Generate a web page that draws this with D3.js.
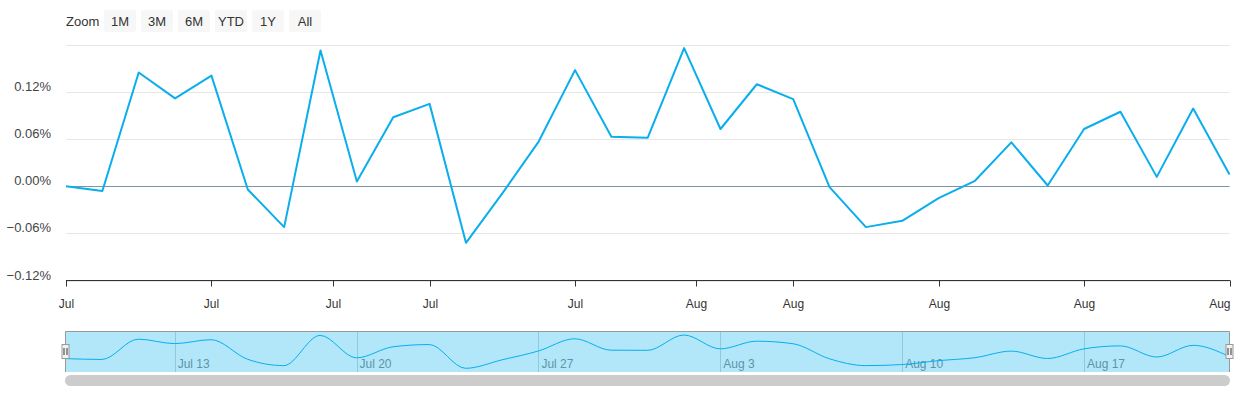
<!DOCTYPE html>
<html>
<head>
<meta charset="utf-8">
<script src="https://cdn.jsdelivr.net/npm/d3@7"></script>
<style>
  body { margin: 0; background: #fff; }
  svg { display: block; font-family: "Liberation Sans", Arial, sans-serif; }
</style>
</head>
<body>
<div id="chart"></div>
<script>
// trading days, Jul 8 - Aug 21
var dates = ["Jul 8","Jul 9","Jul 10","Jul 13","Jul 14","Jul 15","Jul 16","Jul 17",
  "Jul 20","Jul 21","Jul 22","Jul 23","Jul 24","Jul 27","Jul 28","Jul 29","Jul 30","Jul 31",
  "Aug 3","Aug 4","Aug 5","Aug 6","Aug 7","Aug 10","Aug 11","Aug 12","Aug 13","Aug 14",
  "Aug 17","Aug 18","Aug 19","Aug 20","Aug 21"];
// change vs first point, in %
var values = [0.000, -0.006, 0.145, 0.112, 0.141, -0.004, -0.052, 0.173, 0.006, 0.088,
  0.105, -0.072, -0.009, 0.057, 0.148, 0.063, 0.062, 0.176, 0.073, 0.130,
  0.111, -0.001, -0.052, -0.044, -0.015, 0.007, 0.056, 0.001, 0.073, 0.095,
  0.012, 0.099, 0.015];

var yTicks = [-0.12, -0.06, 0.00, 0.06, 0.12, 0.18];
// x ticks as (ordinal) point index
var xTickPos = [0, 4, 7.33, 10, 14, 17.33, 20, 24, 28, 32];
var xTickLabels = ["Jul","Jul","Jul","Jul","Jul","Aug","Aug","Aug","Aug","Aug"];
var navTickLabels = ["Jul 13","Jul 20","Jul 27","Aug 3","Aug 10","Aug 17"];
var buttons = ["1M","3M","6M","YTD","1Y","All"];

var W = 1240, H = 400;
var plot = {left: 66, right: 1229.5, top: 45, bottom: 280.5};
var nav = {top: 331, bottom: 372};
var lineColor = "#0aaeec";

var svg = d3.select("#chart").append("svg")
    .attr("width", W).attr("height", H);

// range selector
svg.append("text")
    .attr("x", 66).attr("y", 26)
    .attr("font-size", 13).attr("fill", "#333")
    .text("Zoom");

var btn = svg.append("g").selectAll("g")
    .data(buttons)
    .join("g")
    .attr("transform", (d, i) => "translate(" + (104 + i * 37) + ",10)");
btn.append("rect")
    .attr("width", 32).attr("height", 22).attr("rx", 2)
    .attr("fill", "#f7f7f7");
btn.append("text")
    .attr("x", 16).attr("y", 16)
    .attr("text-anchor", "middle")
    .attr("font-size", 13).attr("fill", "#333")
    .text(d => d);

// scales
var x = d3.scaleLinear()
    .domain([0, values.length - 1])
    .range([plot.left, plot.right]);

var y = d3.scaleLinear()
    .domain([-0.12, 0.18])
    .range([plot.bottom, plot.top]);

// grid
svg.append("g")
  .selectAll("line")
  .data(yTicks)
  .join("line")
    .attr("x1", plot.left).attr("x2", plot.right)
    .attr("y1", d => Math.round(y(d)) + 0.5)
    .attr("y2", d => Math.round(y(d)) + 0.5)
    .attr("stroke", "#e6e6e6");

// y labels (top one hidden)
svg.append("g")
  .selectAll("text")
  .data(yTicks.slice(0, -1))
  .join("text")
    .attr("x", 51)
    .attr("y", d => y(d) - 1)
    .attr("text-anchor", "end")
    .attr("font-size", 13)
    .attr("fill", "#444")
    .text(d => d3.format(".2f")(d) + "%");

// zero line
svg.append("line")
    .attr("x1", plot.left).attr("x2", plot.right)
    .attr("y1", Math.round(y(0)) + 0.5).attr("y2", Math.round(y(0)) + 0.5)
    .attr("stroke", "#7f93a6");

// x axis
var xAxisG = svg.append("g")
    .attr("transform", "translate(0," + plot.bottom + ")");
xAxisG.append("line")
    .attr("x1", plot.left).attr("x2", plot.right + 0.5)
    .attr("stroke", "#333");
var tick = xAxisG.selectAll("g.tick")
    .data(xTickPos)
    .join("g")
    .attr("class", "tick")
    .attr("transform", d => "translate(" + (Math.round(x(d)) + 0.5) + ",0)");
tick.append("line")
    .attr("y2", 6)
    .attr("stroke", "#333");
tick.append("text")
    .attr("y", 27)
    .attr("text-anchor", (d, i) => i === xTickPos.length - 1 ? "end" : "middle")
    .attr("font-size", 12)
    .attr("fill", "#333")
    .text((d, i) => xTickLabels[i]);

// main series
var line = d3.line()
    .x((d, i) => x(i))
    .y(d => y(d));

svg.append("path")
    .datum(values)
    .attr("fill", "none")
    .attr("stroke", lineColor)
    .attr("stroke-width", 2)
    .attr("stroke-linejoin", "round")
    .attr("d", line);

// navigator
var xn = d3.scaleLinear()
    .domain([0, values.length - 1])
    .range([65.5, 1229.5]);
var yn = d3.scaleLinear()
    .domain(d3.extent(values))
    .range([368.3, 335]);

var navTickIdx = navTickLabels.map(l => dates.indexOf(l));

var navG = svg.append("g");
navG.selectAll("line.grid")
  .data(navTickIdx)
  .join("line")
    .attr("class", "grid")
    .attr("x1", d => Math.round(xn(d)) + 0.5).attr("x2", d => Math.round(xn(d)) + 0.5)
    .attr("y1", nav.top).attr("y2", nav.bottom)
    .attr("stroke", "#c9d6dc");
navG.selectAll("text")
  .data(navTickIdx)
  .join("text")
    .attr("x", d => xn(d) + 3)
    .attr("y", 368)
    .attr("font-size", 12)
    .attr("fill", "#888")
    .text((d, i) => navTickLabels[i]);

navG.append("path")
    .datum(values)
    .attr("fill", "none")
    .attr("stroke", lineColor)
    .attr("stroke-width", 1)
    .attr("d", d3.line()
        .x((d, i) => xn(i))
        .y(d => yn(d))
        .curve(d3.curveMonotoneX));

// selected range mask
navG.append("rect")
    .attr("x", 65.5).attr("y", nav.top)
    .attr("width", 1229.5 - 65.5).attr("height", nav.bottom - nav.top)
    .attr("fill", "rgba(0,174,239,0.3)");

// outline
navG.append("path")
    .attr("d", "M65.5," + nav.bottom + "V" + (nav.top + 0.5) + "H1229.5V" + nav.bottom)
    .attr("fill", "none")
    .attr("stroke", "#999");

// handles
var handles = navG.selectAll("g.handle")
    .data([65.5, 1229.5])
    .join("g")
    .attr("class", "handle")
    .attr("transform", d => "translate(" + d + ",344)");
handles.append("rect")
    .attr("x", -3.5).attr("y", 0.5)
    .attr("width", 7).attr("height", 14)
    .attr("fill", "#f2f2f2")
    .attr("stroke", "#999");
handles.append("path")
    .attr("d", "M-1.5,4V11M1.5,4V11")
    .attr("stroke", "#333")
    .attr("stroke-width", 1);

// scrollbar thumb
svg.append("rect")
    .attr("x", 65).attr("y", 375)
    .attr("width", 1230 - 65).attr("height", 11)
    .attr("rx", 5.5)
    .attr("fill", "#cccccc");
</script>
</body>
</html>
